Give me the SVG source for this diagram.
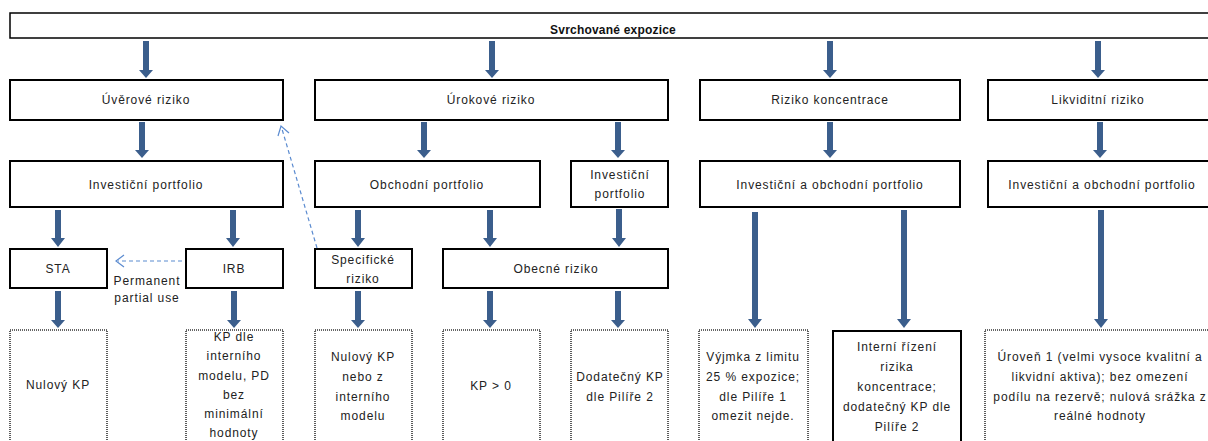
<svg xmlns="http://www.w3.org/2000/svg" width="1208" height="441" viewBox="0 0 1208 441">
<defs>
<style>
.bx{fill:#fff;stroke:#000;stroke-width:2}
.top{fill:#fff;stroke:#000;stroke-width:1.5}
.dot{fill:#fff;stroke:#333;stroke-width:1.6;stroke-dasharray:1 1}
.t{font-family:"Liberation Sans",Arial,sans-serif;font-size:12px;letter-spacing:0.9px;fill:#222;text-anchor:middle}
.tb{font-family:"Liberation Sans",Arial,sans-serif;font-size:12px;font-weight:bold;letter-spacing:0.2px;fill:#111;text-anchor:middle}
.ar{fill:#3b5e8c}
.ds{fill:none;stroke:#5b8bd0;stroke-width:1.2;stroke-dasharray:4 3}
.dh{fill:none;stroke:#5b8bd0;stroke-width:1.2}
</style>
</defs>
<rect width="1208" height="441" fill="#fff"/>

<g id="svrchovane">
<rect class="top" x="10" y="13" width="1210" height="25"/>
<text class="tb" x="613" y="34">Svrchované expozice</text>
</g>

<g id="uverove">
<rect class="bx" x="10" y="80" width="273" height="40"/>
<text class="t" x="146" y="104">Úvěrové riziko</text>
</g>
<g id="urokove">
<rect class="bx" x="315" y="80" width="353" height="40"/>
<text class="t" x="491" y="104">Úrokové riziko</text>
</g>
<g id="koncentrace">
<rect class="bx" x="700" y="80" width="260" height="40"/>
<text class="t" x="830" y="104">Riziko koncentrace</text>
</g>
<g id="likvidni">
<rect class="bx" x="988" y="80" width="230" height="40"/>
<text class="t" x="1098" y="104">Likviditní riziko</text>
</g>

<g id="invest1">
<rect class="bx" x="10" y="161" width="273" height="46"/>
<text class="t" x="146" y="189">Investiční portfolio</text>
</g>
<g id="obchodni">
<rect class="bx" x="315" y="161" width="225" height="46"/>
<text class="t" x="427" y="189">Obchodní portfolio</text>
</g>
<g id="invest2">
<rect class="bx" x="571" y="161" width="97" height="46"/>
<text class="t" x="620" y="179">Investiční</text>
<text class="t" x="620" y="198">portfolio</text>
</g>
<g id="invobch1">
<rect class="bx" x="700" y="161" width="260" height="46"/>
<text class="t" x="830" y="189">Investiční a obchodní portfolio</text>
</g>
<g id="invobch2">
<rect class="bx" x="988" y="161" width="230" height="46"/>
<text class="t" x="1102" y="189">Investiční a obchodní portfolio</text>
</g>

<g id="sta">
<rect class="bx" x="10" y="249" width="97" height="39"/>
<text class="t" x="58" y="273">STA</text>
</g>
<g id="irb">
<rect class="bx" x="186" y="249" width="97" height="39"/>
<text class="t" x="234" y="273">IRB</text>
</g>
<g id="specificke">
<rect class="bx" x="315" y="249" width="97" height="39"/>
<text class="t" x="363" y="264">Specifické</text>
<text class="t" x="363" y="283">riziko</text>
</g>
<g id="obecne">
<rect class="bx" x="443" y="249" width="225" height="39"/>
<text class="t" x="556" y="273">Obecné riziko</text>
</g>

<g id="nulovy1">
<rect class="dot" x="10" y="330" width="97" height="120"/>
<text class="t" x="58" y="389">Nulový KP</text>
</g>
<g id="kpinterni">
<rect class="dot" x="186" y="330" width="97" height="120"/>
<text class="t" x="234" y="341">KP dle</text>
<text class="t" x="234" y="360">interního</text>
<text class="t" x="234" y="380">modelu, PD</text>
<text class="t" x="234" y="399">bez</text>
<text class="t" x="234" y="418">minimální</text>
<text class="t" x="234" y="437">hodnoty</text>
</g>
<g id="nulovy2">
<rect class="dot" x="315" y="330" width="97" height="120"/>
<text class="t" x="363" y="361">Nulový KP</text>
<text class="t" x="363" y="381">nebo z</text>
<text class="t" x="363" y="401">interního</text>
<text class="t" x="363" y="420">modelu</text>
</g>
<g id="kp0">
<rect class="dot" x="443" y="330" width="97" height="120"/>
<text class="t" x="491" y="390">KP &gt; 0</text>
</g>
<g id="dodatecny">
<rect class="dot" x="571" y="330" width="97" height="120"/>
<text class="t" x="620" y="381">Dodatečný KP</text>
<text class="t" x="620" y="401">dle Pilíře 2</text>
</g>
<g id="vyjimka">
<rect class="dot" x="699" y="330" width="109" height="120"/>
<text class="t" x="753" y="361">Výjmka z limitu</text>
<text class="t" x="753" y="381">25 % expozice;</text>
<text class="t" x="753" y="401">dle Pilíře 1</text>
<text class="t" x="753" y="420">omezit nejde.</text>
</g>
<g id="interni">
<rect class="bx" x="833" y="331" width="128" height="120"/>
<text class="t" x="897" y="351">Interní řízení</text>
<text class="t" x="897" y="371">rizika</text>
<text class="t" x="897" y="391">koncentrace;</text>
<text class="t" x="897" y="411">dodatečný KP dle</text>
<text class="t" x="897" y="431">Pilíře 2</text>
</g>
<g id="uroven">
<rect class="dot" x="985" y="330" width="240" height="120"/>
<text class="t" x="1100" y="361">Úroveň 1 (velmi vysoce kvalitní a</text>
<text class="t" x="1100" y="381">likvidní aktiva); bez omezení</text>
<text class="t" x="1100" y="401">podílu na rezervě; nulová srážka z</text>
<text class="t" x="1100" y="420">reálné hodnoty</text>
</g>

<g id="connectors">
<path class="ar" d="M143 41H149V70H153L146 78L139 70H143Z"/>
<path class="ar" d="M489 41H495V70H499L492 78L485 70H489Z"/>
<path class="ar" d="M827 41H833V70H837L830 78L823 70H827Z"/>
<path class="ar" d="M1095 41H1101V70H1105L1098 78L1091 70H1095Z"/>
<path class="ar" d="M139 122H145V150H149L142 158L135 150H139Z"/>
<path class="ar" d="M421 122H427V150H431L424 158L417 150H421Z"/>
<path class="ar" d="M615 122H621V150H625L618 158L611 150H615Z"/>
<path class="ar" d="M827 122H833V150H837L830 158L823 150H827Z"/>
<path class="ar" d="M1097 122H1103V150H1107L1100 158L1093 150H1097Z"/>
<path class="ar" d="M55 210H61V238H65L58 247L51 238H55Z"/>
<path class="ar" d="M230 210H236V238H240L233 247L226 238H230Z"/>
<path class="ar" d="M355 210H361V238H365L358 247L351 238H355Z"/>
<path class="ar" d="M487 210H493V238H497L490 247L483 238H487Z"/>
<path class="ar" d="M616 209H622V238H626L619 247L612 238H616Z"/>
<path class="ar" d="M752 212H758V319H762L755 328L748 319H752Z"/>
<path class="ar" d="M901 210H907V319H911L904 328L897 319H901Z"/>
<path class="ar" d="M1098 210H1104V319H1108L1101 328L1094 319H1098Z"/>
<path class="ar" d="M55 291H61V320H65L58 328L51 320H55Z"/>
<path class="ar" d="M231 291H237V320H241L234 328L227 320H231Z"/>
<path class="ar" d="M355 291H361V320H365L358 328L351 320H355Z"/>
<path class="ar" d="M487 291H493V320H497L490 328L483 320H487Z"/>
<path class="ar" d="M615 291H621V320H625L618 328L611 320H615Z"/>
<path class="ds" d="M182 261H118"/>
<path class="dh" d="M124 255L116 261L124 267"/>
<text class="t" x="147" y="285">Permanent</text>
<text class="t" x="147" y="302">partial use</text>
<path class="ds" d="M317 248L282 129"/>
<path class="dh" d="M278 136L281 126L289 133"/>
</g>
</svg>
